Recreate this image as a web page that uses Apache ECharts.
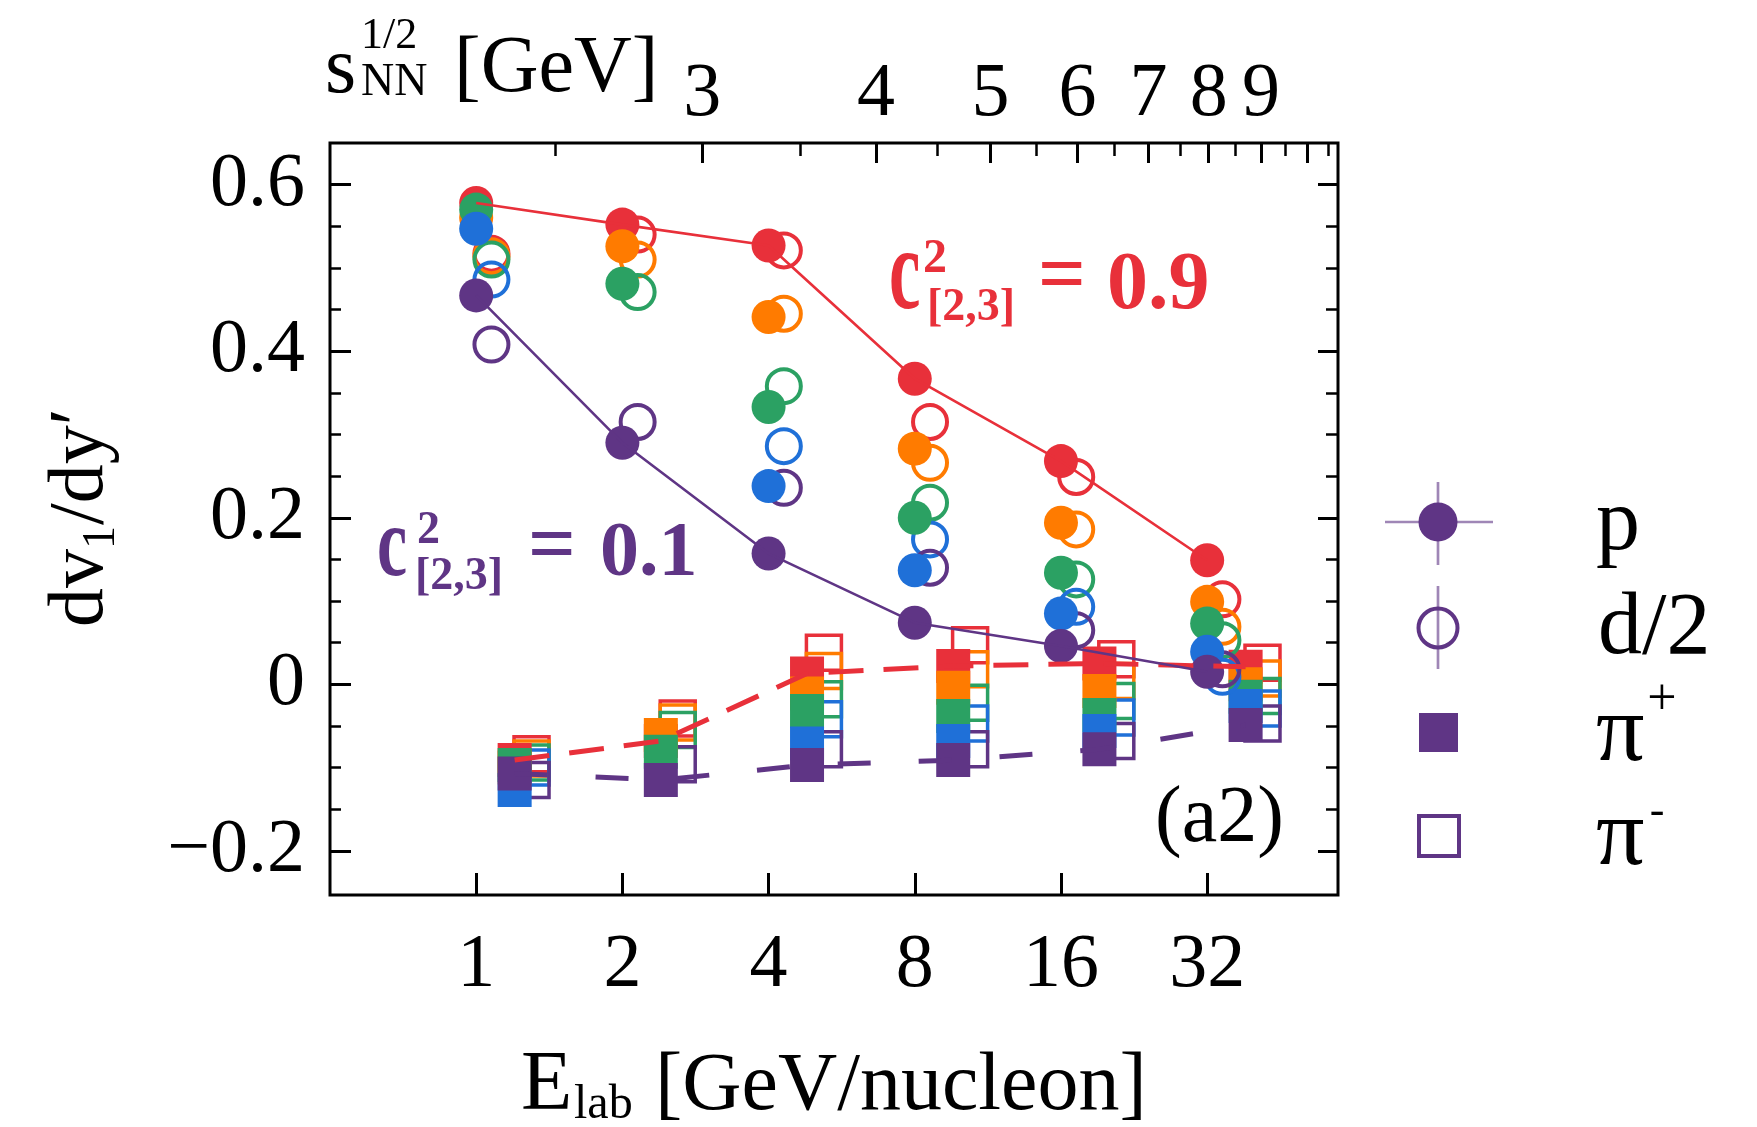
<!DOCTYPE html>
<html>
<head>
<meta charset="utf-8">
<script src="https://cdn.jsdelivr.net/npm/echarts@6/dist/echarts.min.js"></script>
<style>
html,body{margin:0;padding:0;background:#fff;}
#chart{width:1757px;height:1127px;}
</style>
</head>
<body>
<div id="chart"></div>
<script>
// ---------------- data ----------------
const energies = [1, 2, 4, 8, 16, 32];           // E_lab [GeV/nucleon]
const c2Values = ['0.9', '0.7', '0.5', '0.3', '0.1'];

// protons (filled circles)
const p_c09 = [0.578, 0.552, 0.527, 0.367, 0.268, 0.149];
const p_c07 = [0.560, 0.526, 0.441, 0.283, 0.194, 0.099];
const p_c05 = [0.570, 0.481, 0.333, 0.200, 0.134, 0.073];
const p_c03 = [0.547, null, 0.238, 0.137, 0.085, 0.039];
const p_c01 = [0.467, 0.290, 0.157, 0.074, 0.046, 0.015];

// deuterons / 2 (open circles)
const d_c09 = [0.517, 0.540, 0.521, 0.315, 0.249, 0.102];
const d_c07 = [0.514, 0.510, 0.445, 0.266, 0.186, 0.069];
const d_c05 = [0.510, 0.471, 0.358, 0.218, 0.126, 0.053];
const d_c03 = [0.486, null, 0.286, 0.174, 0.093, 0.009];
const d_c01 = [0.408, 0.315, 0.236, 0.140, 0.065, 0.018];

// pi+ (filled squares)
const pip_c09 = [-0.091, -0.068, 0.013, 0.022, 0.025, 0.021];
const pip_c07 = [-0.100, -0.061, -0.011, -0.004, -0.008, 0.000];
const pip_c05 = [-0.097, -0.081, -0.032, -0.038, -0.037, -0.015];
const pip_c03 = [-0.127, null, -0.071, -0.068, -0.056, -0.026];
const pip_c01 = [-0.107, -0.115, -0.097, -0.091, -0.078, -0.049];

// pi- (open squares)
const pim_c09 = [-0.084, -0.041, 0.038, 0.047, 0.030, 0.026];
const pim_c07 = [-0.089, -0.046, 0.016, 0.018, 0.004, 0.007];
const pim_c05 = [-0.094, -0.055, -0.018, -0.022, -0.020, -0.014];
const pim_c03 = [-0.100, null, -0.042, -0.047, -0.040, -0.029];
const pim_c01 = [-0.115, -0.096, -0.078, -0.078, -0.068, -0.047];

// ticks
const xTickLabels = [1, 2, 4, 8, 16, 32];
const yTickLabels = [-0.2, 0, 0.2, 0.4, 0.6];
const yMinorTicks = [-0.15, -0.1, -0.05, 0.05, 0.1, 0.15, 0.25, 0.3, 0.35, 0.45, 0.5, 0.55];
const sqrtSLabels = [3, 4, 5, 6, 7, 8, 9];
const sqrtSMajorTicks = [3, 4, 5, 6, 7, 8, 9, 10];
const sqrtSMinorTicks = [2.5, 3.5, 4.5, 5.5, 6.5, 7.5, 8.5, 9.5, 10.5];

// ---------------- helpers ----------------
const M_N = 0.938;
const eLabFromSqrtS = rs => (rs * rs - 4 * M_N * M_N) / (2 * M_N);
const sqrtSFromELab = e => Math.sqrt(4 * M_N * M_N + 2 * M_N * e);
const X_MIN = -1, X_MAX = 5.895;        // log2(E_lab) extent
const Y_MIN = -0.253, Y_MAX = 0.65;
const SHIFT_D = 1.075, SHIFT_PIP = 1.2, SHIFT_PIM = 1.3;  // horizontal display offsets
const FONT = '"Liberation Serif", "Times New Roman", serif';
const COL = ['#E8303A', '#FF7B00', '#2BA163', '#1F70D8', '#5F3585'];
const PURPLE = COL[4];

const groups = [
  {p: p_c09, d: d_c09, pip: pip_c09, pim: pim_c09},
  {p: p_c07, d: d_c07, pip: pip_c07, pim: pim_c07},
  {p: p_c05, d: d_c05, pip: pip_c05, pim: pim_c05},
  {p: p_c03, d: d_c03, pip: pip_c03, pim: pim_c03},
  {p: p_c01, d: d_c01, pip: pip_c01, pim: pim_c01}
];

function pts(vals, shift) {
  const out = [];
  energies.forEach((e, i) => { if (vals[i] != null) out.push([Math.log2(e * shift), vals[i]]); });
  return out;
}

function scatter(name, data, symbol, size, color, open) {
  return {
    name: name, type: 'scatter', data: data, symbol: symbol, symbolSize: size, silent: true,
    itemStyle: open
      ? {color: 'rgba(255,255,255,0)', borderColor: color, borderWidth: symbol === 'rect' ? 3.5 : 4, opacity: 1}
      : {color: color, borderWidth: 0, opacity: 1}
  };
}
function lineOnly(name, data, color, width, type) {
  return {name: name, type: 'line', data: data, symbol: 'none', showSymbol: false, silent: true,
    lineStyle: {color: color, width: width, type: type, opacity: 1}};
}

const series = [];
// pi- open squares
groups.forEach((g, k) => series.push(scatter('pi- c2=' + c2Values[k], pts(g.pim, SHIFT_PIM), 'rect', 35, COL[k], true)));
// dashed model lines through pi+ (c2 = 0.9 and 0.1)
series.push(lineOnly('pi+ line 0.9', pts(pip_c09, SHIFT_PIP), COL[0], 5, [35, 20]));
series.push(lineOnly('pi+ line 0.1', pts(pip_c01, SHIFT_PIP), COL[4], 5, [33, 48]));
// pi+ filled squares
groups.forEach((g, k) => series.push(scatter('pi+ c2=' + c2Values[k], pts(g.pip, SHIFT_PIP), 'rect', 34, COL[k], false)));
// d/2 open circles
groups.forEach((g, k) => series.push(scatter('d/2 c2=' + c2Values[k], pts(g.d, SHIFT_D), 'circle', 34, COL[k], true)));
// solid lines through protons (c2 = 0.9 and 0.1)
series.push(lineOnly('p line 0.9', pts(p_c09, 1), COL[0], 2.6, 'solid'));
series.push(lineOnly('p line 0.1', pts(p_c01, 1), COL[4], 2.6, 'solid'));
// protons filled circles
groups.forEach((g, k) => series.push(scatter('p c2=' + c2Values[k], pts(g.p, 1), 'circle', 34, COL[k], false)));

function txt(x, y, s, size, color, extra) {
  extra = extra || {};
  const el = {
    type: 'text', x: x, y: y, silent: true,
    style: {
      text: s,
      fontSize: size, fontFamily: FONT, fontWeight: extra.bold ? 'bold' : 'normal',
      fill: color || '#000',
      align: extra.align || 'left', textAlign: extra.align || 'left',
      verticalAlign: 'middle', textVerticalAlign: 'middle'
    }
  };
  if (extra.scaleX) el.scaleX = extra.scaleX;
  return el;
}

const fmtY = v => {
  if (Math.abs(v) < 1e-9) return '0';
  return (v < 0 ? '\u2212' : '') + Math.abs(v).toFixed(1);
};

const baseX = {type: 'value', min: X_MIN, max: X_MAX, gridIndex: 0,
  axisLine: {show: false, onZero: false}, splitLine: {show: false}, minorTick: {show: false}, axisPointer: {show: false}};
const baseY = {type: 'value', min: Y_MIN, max: Y_MAX, gridIndex: 0,
  axisLine: {show: false, onZero: false}, splitLine: {show: false}, minorTick: {show: false}, axisPointer: {show: false}};

const option = {
  animation: false,
  backgroundColor: '#fff',
  grid: {left: 330, top: 143, width: 1008, height: 752, show: true, borderColor: '#000', borderWidth: 3,
    backgroundColor: 'rgba(0,0,0,0)', containLabel: false, outerBoundsMode: 'none'},
  xAxis: [
    Object.assign({}, baseX, {position: 'bottom',
      axisTick: {show: true, inside: true, length: 22, lineStyle: {color: '#000', width: 3},
        customValues: xTickLabels.map(Math.log2)},
      axisLabel: {show: true, customValues: xTickLabels.map(Math.log2),
        formatter: v => String(Math.round(Math.pow(2, v))),
        margin: 33, color: '#000', fontSize: 76, fontFamily: FONT}}),
    Object.assign({}, baseX, {position: 'top',
      axisTick: {show: true, inside: true, length: 20, lineStyle: {color: '#000', width: 3},
        customValues: sqrtSMajorTicks.map(rs => Math.log2(eLabFromSqrtS(rs)))},
      axisLabel: {show: true, customValues: sqrtSLabels.map(rs => Math.log2(eLabFromSqrtS(rs))),
        formatter: v => String(Math.round(sqrtSFromELab(Math.pow(2, v)))),
        margin: 10, color: '#000', fontSize: 76, fontFamily: FONT}}),
    Object.assign({}, baseX, {position: 'top',
      axisTick: {show: true, inside: true, length: 13, lineStyle: {color: '#000', width: 2.5},
        customValues: sqrtSMinorTicks.map(rs => Math.log2(eLabFromSqrtS(rs)))},
      axisLabel: {show: false}})
  ],
  yAxis: [
    Object.assign({}, baseY, {position: 'left',
      axisTick: {show: true, inside: true, length: 21, lineStyle: {color: '#000', width: 3}, customValues: yTickLabels},
      axisLabel: {show: true, customValues: yTickLabels, formatter: fmtY, margin: 25,
        color: '#000', fontSize: 76, fontFamily: FONT}}),
    Object.assign({}, baseY, {position: 'left',
      axisTick: {show: true, inside: true, length: 11, lineStyle: {color: '#000', width: 2.5}, customValues: yMinorTicks},
      axisLabel: {show: false}}),
    Object.assign({}, baseY, {position: 'right',
      axisTick: {show: true, inside: true, length: 20, lineStyle: {color: '#000', width: 3}, customValues: yTickLabels},
      axisLabel: {show: false}}),
    Object.assign({}, baseY, {position: 'right',
      axisTick: {show: true, inside: true, length: 12, lineStyle: {color: '#000', width: 2.5}, customValues: yMinorTicks},
      axisLabel: {show: false}})
  ],
  series: series,
  graphic: {elements: [
    // top axis title: s_NN^{1/2} [GeV]
    txt(325, 71, 's', 80, '#000'),
    txt(361, 36, '1/2', 44, '#000'),
    txt(361, 83, 'NN', 46, '#000'),
    txt(454, 70, '[GeV]', 80, '#000'),
    // bottom axis title: E_lab [GeV/nucleon]
    txt(521, 1087, 'E', 84, '#000'),
    txt(574, 1105, 'lab', 48, '#000'),
    txt(655, 1087, '[GeV/nucleon]', 82, '#000'),
    // y axis title: dv1/dy'
    {type: 'group', x: 82, y: 627, rotation: Math.PI / 2, silent: true, children: [
      txt(0, 0, 'dv', 78, '#000'),
      txt(78, 20, '1', 46, '#000'),
      txt(102, 0, '/dy\u2032', 78, '#000')
    ]},
    // panel label
    txt(1155, 820, '(a2)', 80, '#000'),
    // red annotation c^2_[2,3] = 0.9
    txt(889, 278, 'c', 116, COL[0], {bold: true, scaleX: 0.61}),
    txt(923, 260, '2', 48, COL[0], {bold: true}),
    txt(927, 308, '[2,3]', 46, COL[0], {bold: true}),
    txt(1038, 280, '=', 84, COL[0], {bold: true}),
    txt(1107, 287, '0.9', 82, COL[0], {bold: true}),
    // purple annotation c^2_[2,3] = 0.1
    txt(377, 549, 'c', 100, PURPLE, {bold: true, scaleX: 0.68}),
    txt(417, 531, '2', 46, PURPLE, {bold: true}),
    txt(415, 577, '[2,3]', 46, PURPLE, {bold: true}),
    txt(528, 550, '=', 84, PURPLE, {bold: true}),
    txt(600, 555, '0.1', 78, PURPLE, {bold: true}),
    // legend: p
    {type: 'line', silent: true, shape: {x1: 1385, y1: 522, x2: 1493, y2: 522}, style: {stroke: 'rgba(95,53,133,0.6)', lineWidth: 2.7}},
    {type: 'line', silent: true, shape: {x1: 1438, y1: 482, x2: 1438, y2: 565}, style: {stroke: 'rgba(95,53,133,0.6)', lineWidth: 2.7}},
    {type: 'circle', silent: true, shape: {cx: 1438, cy: 522, r: 19.5}, style: {fill: PURPLE}},
    txt(1596, 526, 'p', 88, '#000'),
    // legend: d/2
    {type: 'line', silent: true, shape: {x1: 1438, y1: 586, x2: 1438, y2: 669}, style: {stroke: 'rgba(95,53,133,0.6)', lineWidth: 2.7}},
    {type: 'circle', silent: true, shape: {cx: 1438, cy: 628, r: 19.5}, style: {fill: 'none', stroke: PURPLE, lineWidth: 4}},
    txt(1598, 630, 'd/2', 88, '#000'),
    // legend: pi+
    {type: 'rect', silent: true, shape: {x: 1419, y: 713, width: 39, height: 39}, style: {fill: PURPLE}},
    txt(1596, 735, '\u03c0', 96, '#000'),
    txt(1662, 700, '+', 52, '#000', {align: 'center'}),
    // legend: pi-
    {type: 'rect', silent: true, shape: {x: 1419, y: 816, width: 40, height: 40}, style: {fill: 'none', stroke: PURPLE, lineWidth: 4}},
    txt(1596, 839, '\u03c0', 96, '#000'),
    txt(1657, 812, '-', 44, '#000', {align: 'center'})
  ]}
};

const chart = echarts.init(document.getElementById('chart'), null, {renderer: 'canvas'});
chart.setOption(option);
</script>
</body>
</html>
